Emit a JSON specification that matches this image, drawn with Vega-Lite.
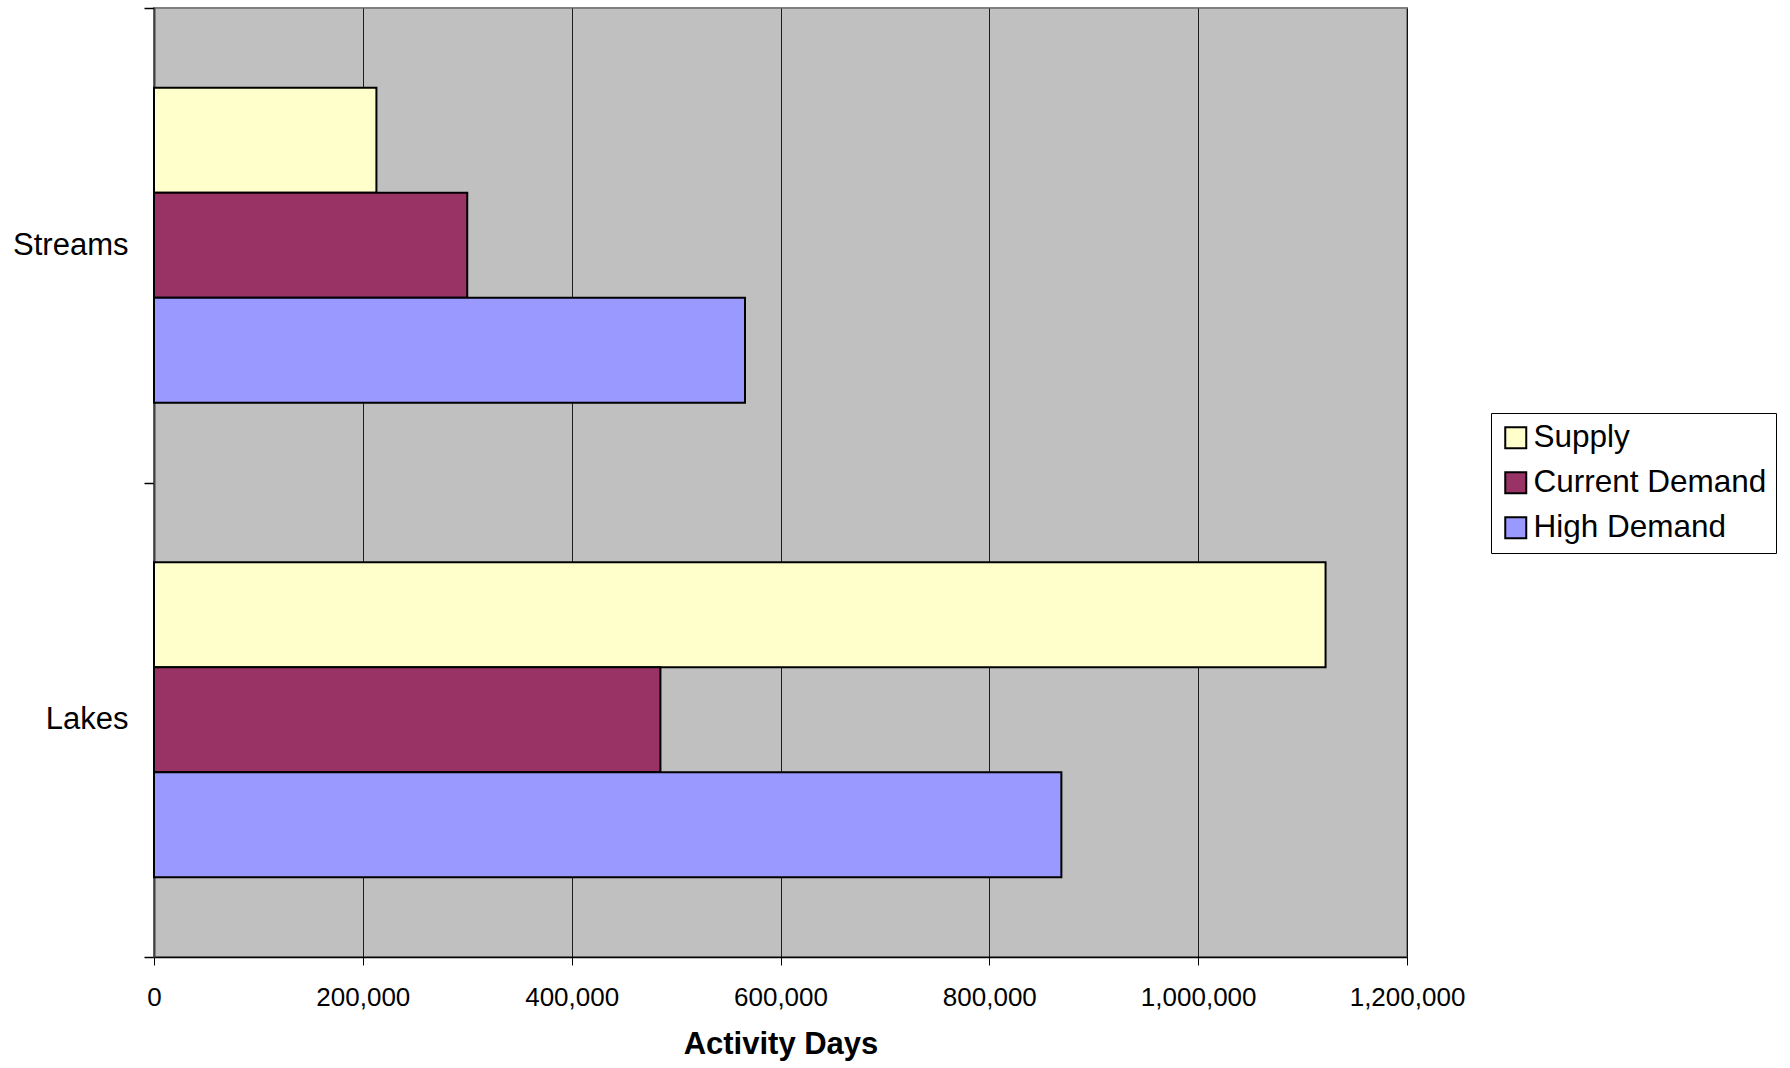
{
  "$schema": "https://vega.github.io/schema/vega-lite/v6.json",
  "autosize": "none",
  "width": 1253,
  "height": 949,
  "padding": {"left": 154, "top": 8, "right": 383, "bottom": 111},
  "background": "white",
  "config": {
    "font": "Liberation Sans",
    "view": {"fill": "#C0C0C0", "stroke": "#808080", "strokeWidth": 2}
  },
  "data": {
    "values": [
      {"waterbody": "Streams", "series": "Supply", "days": 213000},
      {"waterbody": "Streams", "series": "Current Demand", "days": 300000},
      {"waterbody": "Streams", "series": "High Demand", "days": 566000},
      {"waterbody": "Lakes", "series": "Supply", "days": 1122000},
      {"waterbody": "Lakes", "series": "Current Demand", "days": 485000},
      {"waterbody": "Lakes", "series": "High Demand", "days": 869000}
    ]
  },
  "mark": {"type": "bar", "stroke": "black", "strokeWidth": 2},
  "encoding": {
    "y": {
      "field": "waterbody",
      "type": "nominal",
      "sort": ["Streams", "Lakes"],
      "scale": {"paddingInner": 0, "paddingOuter": 0},
      "axis": {
        "title": null,
        "labelFontSize": 31,
        "labelColor": "black",
        "labelPadding": 16,
        "tickBand": "extent",
        "ticks": true,
        "tickSize": 10,
        "tickColor": "black",
        "tickWidth": 1.5,
        "domainColor": "#404040",
        "domainWidth": 2,
        "grid": false
      }
    },
    "yOffset": {
      "field": "series",
      "type": "nominal",
      "sort": ["Supply", "Current Demand", "High Demand"],
      "scale": {"paddingInner": 0, "paddingOuter": 0.758}
    },
    "x": {
      "field": "days",
      "type": "quantitative",
      "scale": {"domain": [0, 1200000], "nice": false, "zero": true},
      "axis": {
        "title": "Activity Days",
        "titleFontSize": 31,
        "titleFontWeight": "bold",
        "titleColor": "black",
        "titleBaseline": "alphabetic",
        "titleY": 96,
        "values": [0, 200000, 400000, 600000, 800000, 1000000, 1200000],
        "format": ",.0f",
        "labelFontSize": 26,
        "labelColor": "black",
        "labelPadding": 19,
        "labelFlush": false,
        "labelOverlap": false,
        "tickSize": 8,
        "tickColor": "black",
        "domainColor": "black",
        "domainWidth": 1.5,
        "grid": true,
        "gridColor": "black",
        "gridOpacity": 0.85
      }
    },
    "color": {
      "field": "series",
      "type": "nominal",
      "scale": {
        "domain": ["Supply", "Current Demand", "High Demand"],
        "range": ["#FFFFCC", "#993366", "#9999FF"]
      },
      "legend": {
        "title": null,
        "orient": "none",
        "legendX": 1337,
        "legendY": 405,
        "padding": 9,
        "fillColor": "white",
        "strokeColor": "black",
        "cornerRadius": 0,
        "symbolType": "square",
        "symbolSize": 441,
        "symbolStrokeColor": "black",
        "symbolStrokeWidth": 2,
        "labelFontSize": 31.5,
        "labelColor": "black",
        "labelOffset": 2,
        "rowPadding": 12,
        "labelLimit": 400
      }
    }
  }
}
